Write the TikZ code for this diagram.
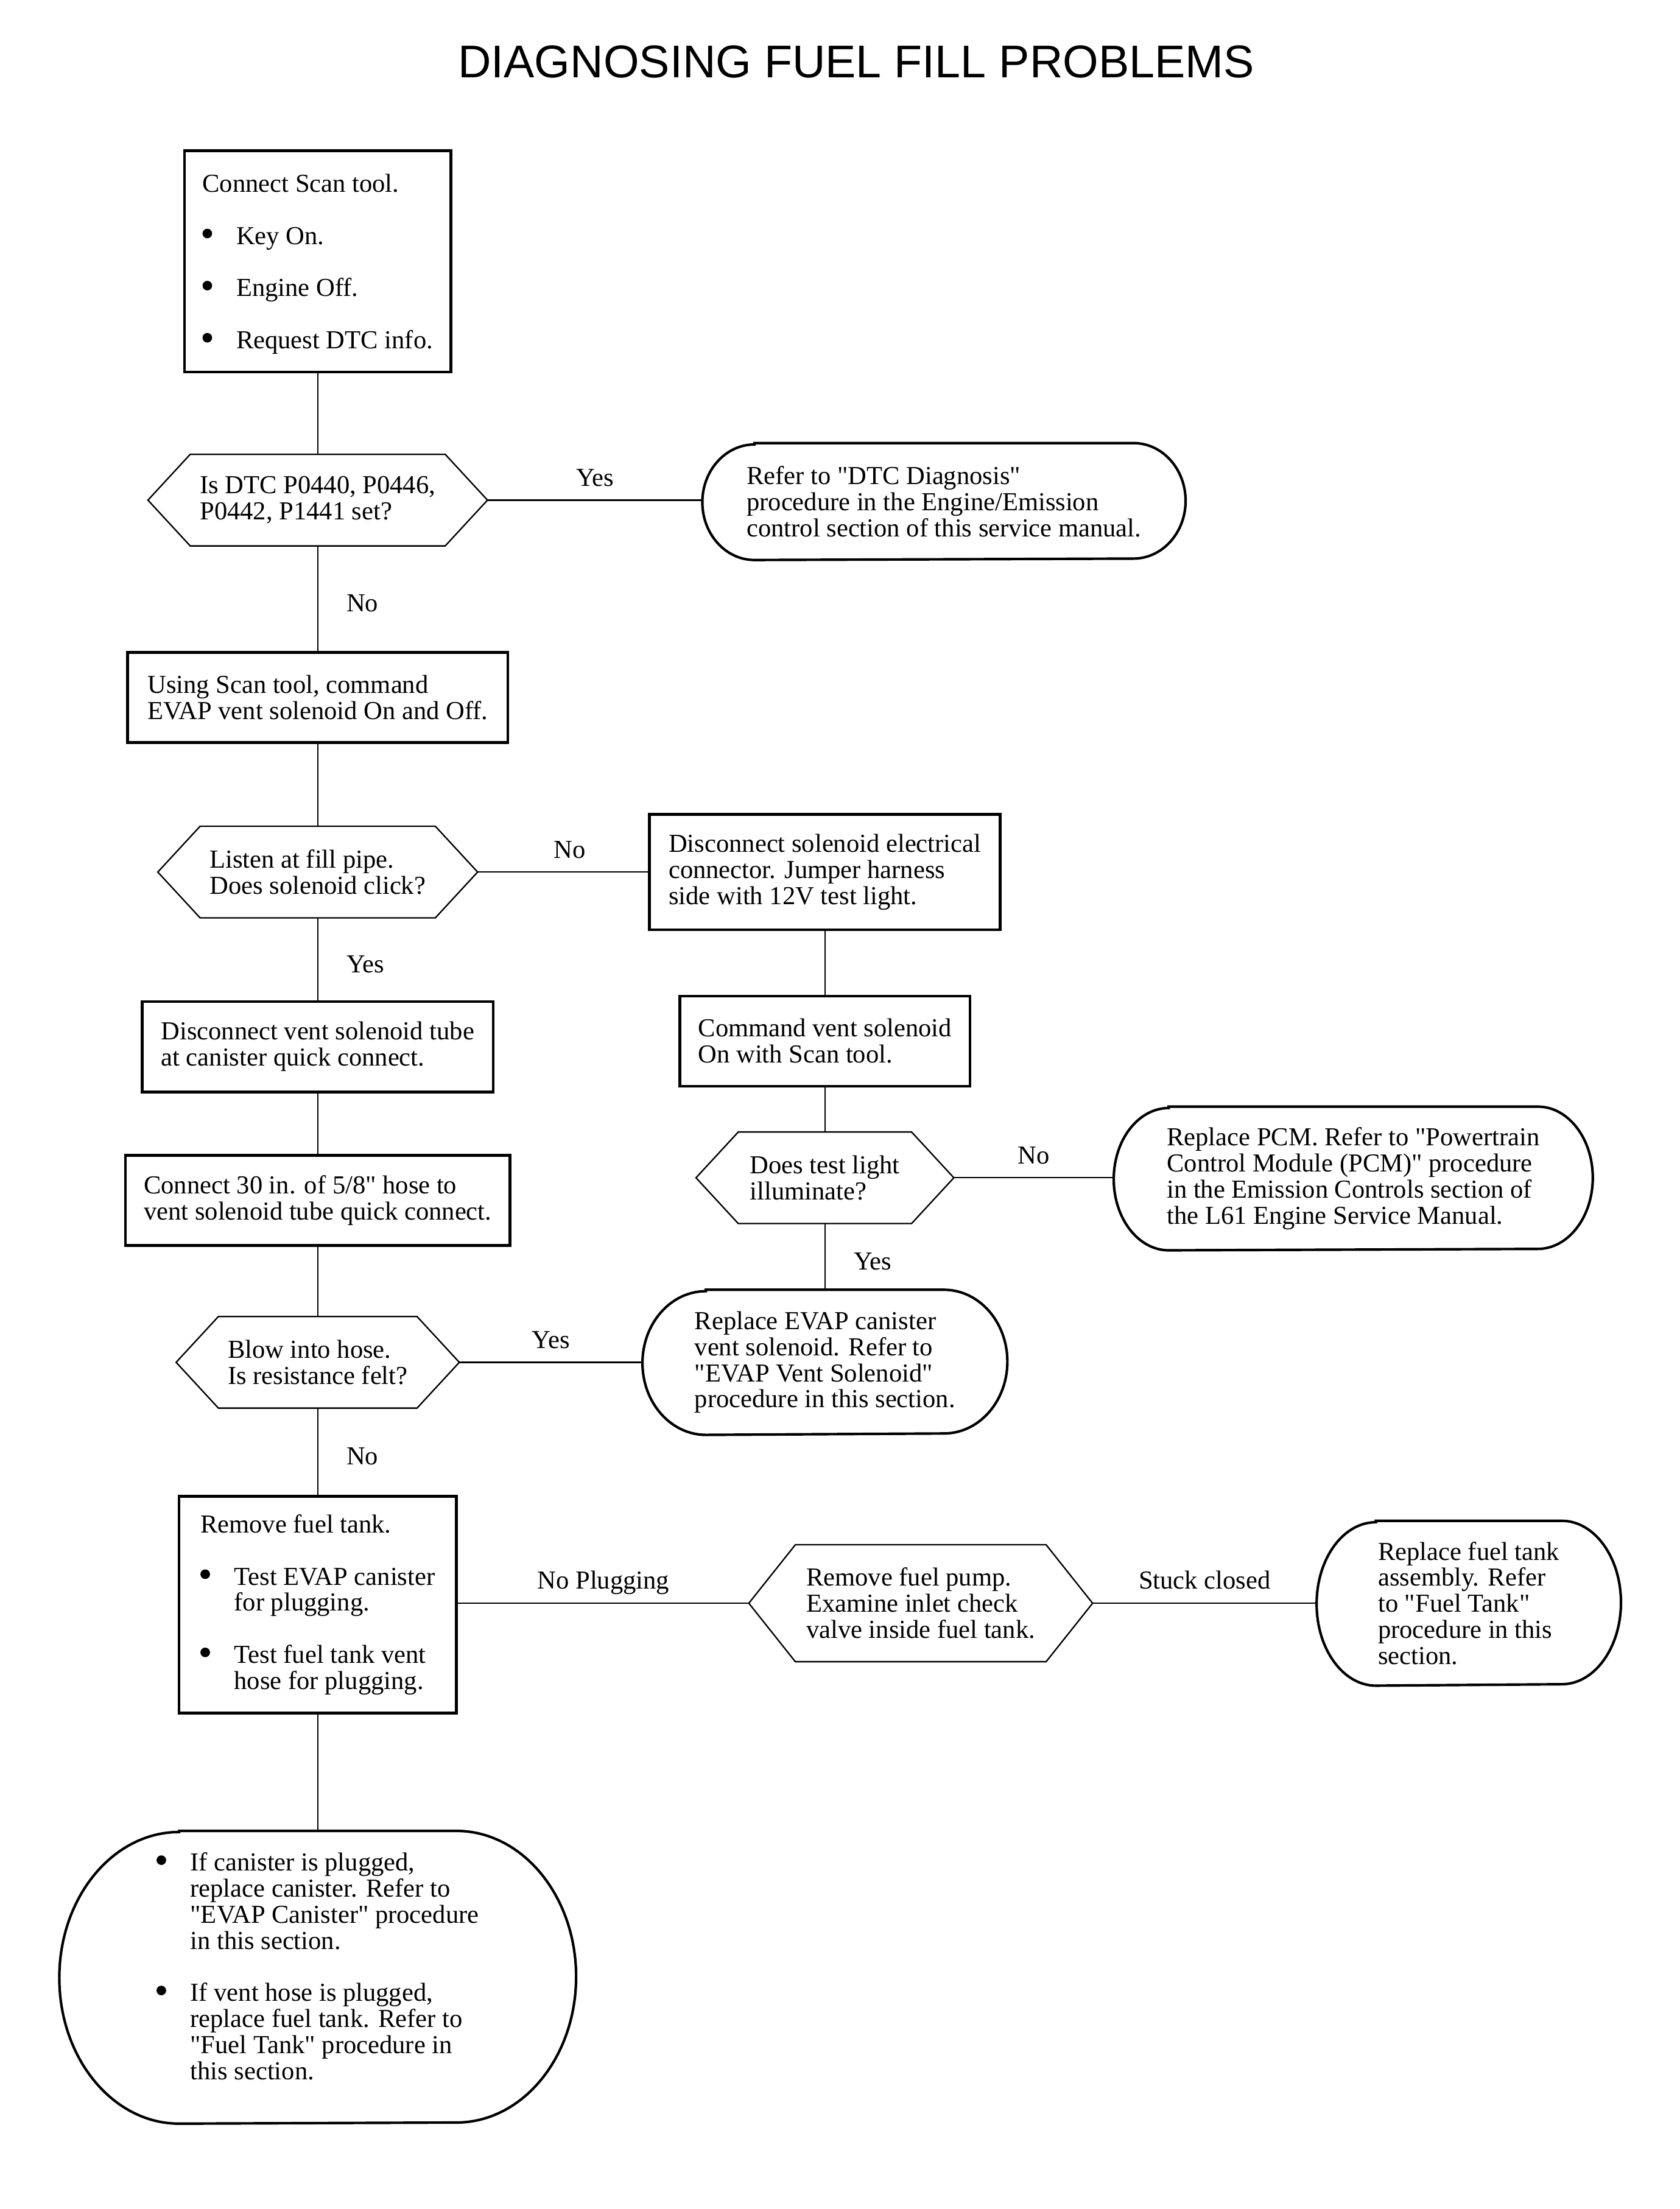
\documentclass[tikz,border=0pt]{standalone}
\usepackage{fontspec}
\newfontfamily\serif{Liberation Serif}
\newfontfamily\titlefont{Liberation Sans}
\newcommand{\bul}{\makebox[12pt][l]{\raisebox{2.1pt}{\tikz\fill (0,0) circle (1.7pt);}}}
\newcommand{\gap}{\\[9.25pt]}

\begin{document}
\begin{tikzpicture}[x=0.5pt, y=-0.5pt, line width=0.5pt,
    every node/.style={font=\serif\fontsize{9.2}{9.25}\selectfont},
    box/.style={draw, line width=1pt, align=left, inner sep=0pt},
    oval/.style={align=left, inner sep=0pt},
    hex/.style={align=left, inner sep=0pt, minimum height=32pt},
    lbl/.style={anchor=base, yshift=5pt, inner sep=0pt},
    vlbl/.style={anchor=base west, xshift=10pt, yshift=-4.75pt, inner sep=0pt}]
    \useasboundingbox (0,0) rectangle (1192,1568);

    \node (title) at (607.7,44) {\titlefont\fontsize{16.3}{18}\selectfont DIAGNOSING FUEL FILL PROBLEMS};

    \node [box, minimum width=94.5pt, minimum height=78.5pt, text height=63.8pt] (scan) at (225.5,185.5)
      {Connect Scan tool.\gap \bul Key On.\gap \bul Engine Off.\gap \bul Request DTC info.};
    \node [hex, minimum width=120pt] (dtc) at (225.5,355) {Is DTC P0440, P0446,\\P0442, P1441 set?};
    \node [oval, minimum width=171pt, minimum height=41pt] (dtcref) at (670,356)
      {Refer to "DTC Diagnosis"\\procedure in the Engine/Emission\\control section of this service manual.};
    \node [box, minimum width=135pt, minimum height=32pt] (cmdvent) at (225.5,495)
      {Using Scan tool, command\\EVAP vent solenoid On and Off.};
    \node [hex, minimum width=113pt] (listen) at (225.5,619) {Listen at fill pipe.\\Does solenoid click?};
    \node [box, minimum width=124.5pt, minimum height=41pt] (jumper) at (585.5,619)
      {Disconnect solenoid electrical\\connector. Jumper harness\\side with 12V test light.};
    \node [box, minimum width=103pt, minimum height=32pt] (cmdon) at (585.5,739)
      {Command vent solenoid\\On with Scan tool.};
    \node [hex, minimum width=91pt] (light) at (585.5,836) {Does test light\\illuminate?};
    \node [oval, minimum width=169.5pt, minimum height=50.5pt] (pcm) at (960.5,836.5)
      {Replace PCM. Refer to "Powertrain\\Control Module (PCM)" procedure\\in the Emission Controls section of\\the L61 Engine Service Manual.};
    \node [oval, minimum width=129pt, minimum height=51pt] (ventsol) at (585.5,967)
      {Replace EVAP canister\\vent solenoid. Refer to\\"EVAP Vent Solenoid"\\procedure in this section.};
    \node [box, minimum width=124.5pt, minimum height=32pt] (tube) at (225.5,743)
      {Disconnect vent solenoid tube\\at canister quick connect.};
    \node [box, minimum width=136.5pt, minimum height=32pt] (hose) at (225.5,852)
      {Connect 30 in. of 5/8" hose to\\vent solenoid tube quick connect.};
    \node [hex, minimum width=100pt] (blow) at (225.5,967) {Blow into hose.\\Is resistance felt?};
    \node [box, minimum width=98.5pt, minimum height=77pt] (tank) at (225.5,1139)
      {Remove fuel tank.\gap \bul Test EVAP canister\\ \hspace*{12pt}for plugging.\gap
       \bul Test fuel tank vent\\ \hspace*{12pt}hose for plugging.};
    \node [hex, minimum width=121.5pt, minimum height=41pt] (pump) at (653.5,1138)
      {Remove fuel pump.\\Examine inlet check\\valve inside fuel tank.};
    \node [oval, minimum width=107.5pt, minimum height=58pt] (newtank) at (1042.5,1138)
      {Replace fuel tank\\assembly. Refer\\to "Fuel Tank"\\procedure in this\\section.};
    \node [oval, minimum width=183pt, minimum height=103.5pt, text depth=8pt] (plugged) at (225.5,1403.5)
      {\bul If canister is plugged,\\ \hspace*{12pt}replace canister. Refer to\\ \hspace*{12pt}"EVAP Canister" procedure\\
       \hspace*{12pt}in this section.\gap \bul If vent hose is plugged,\\ \hspace*{12pt}replace fuel tank. Refer to\\
       \hspace*{12pt}"Fuel Tank" procedure in\\ \hspace*{12pt}this section.};

    % decision outlines
    \foreach \n/\d in {dtc/15pt, listen/15pt, light/15pt, blow/15pt, pump/16.5pt}
      \draw (\n.west) -- ([xshift=\d]\n.north west) -- ([xshift=-\d]\n.north east) -- (\n.east)
        -- ([xshift=-\d]\n.south east) -- ([xshift=\d]\n.south west) -- cycle;

    % terminal outlines
    \foreach \n/\rx/\ry in {dtcref/18.5pt/20.5pt, pcm/19.5pt/25.25pt, ventsol/22.5pt/25.5pt,
                            newtank/21pt/29pt, plugged/42.5pt/51.75pt}
      \draw [line width=0.9pt] ([xshift=\rx]\n.north west) -- ([xshift=-\rx]\n.north east)
        arc [start angle=90, end angle=-90, x radius=\rx, y radius=\ry]
        -- ([xshift=\rx]\n.south west)
        arc [start angle=270, end angle=90, x radius=\rx, y radius=\ry] -- cycle;

    \draw (scan.south) -- (dtc.north);
    \draw (dtc.east) -- node [lbl] {Yes} (dtc.east -| dtcref.west);
    \draw (dtc.south) -- node [vlbl] {No} (cmdvent.north);
    \draw (cmdvent.south) -- (listen.north);
    \draw (listen.east) -- node [lbl, pos=0.54] {No} (listen.east -| jumper.west);
    \draw (jumper.south) -- (cmdon.north);
    \draw (cmdon.south) -- (light.north);
    \draw (light.east) -- node [lbl] {No} (light.east -| pcm.west);
    \draw (light.south) -- node [vlbl] {Yes} (ventsol.north);
    \draw (listen.south) -- node [vlbl] {Yes} (tube.north);
    \draw (tube.south) -- (hose.north);
    \draw (hose.south) -- (blow.north);
    \draw (blow.east) -- node [lbl] {Yes} (blow.east -| ventsol.west);
    \draw (blow.south) -- node [vlbl] {No} (tank.north);
    \draw (pump.west -| tank.east) -- node [lbl] {No Plugging} (pump.west);
    \draw (pump.east) -- node [lbl] {Stuck closed} (pump.east -| newtank.west);
    \draw (tank.south) -- (plugged.north);
\end{tikzpicture}
\end{document}
